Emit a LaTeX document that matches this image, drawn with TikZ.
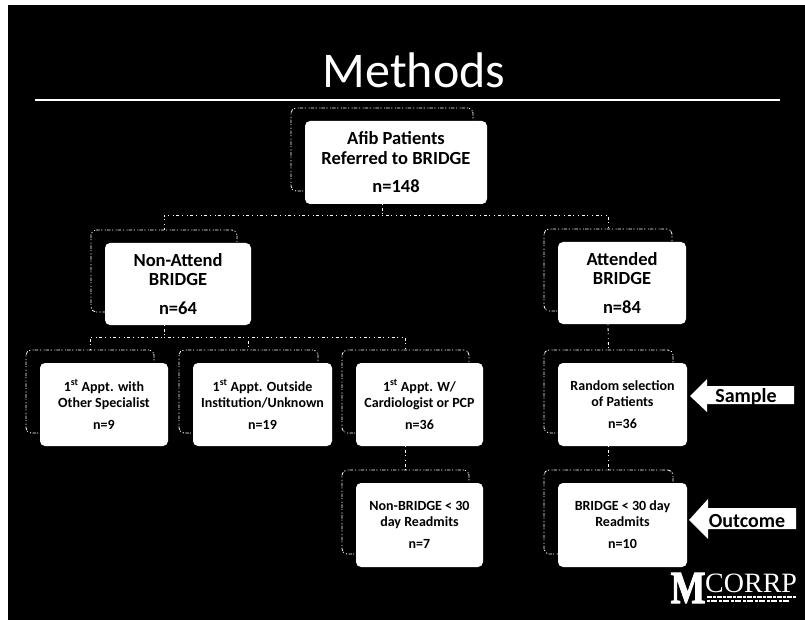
\documentclass[tikz,border=0pt]{standalone}
\usepackage{fontspec}
\setmainfont{Carlito}
\newfontfamily\logofont{Liberation Serif}
\newfontfamily\logoblock[FakeBold=2.5]{Liberation Serif Bold}
\newcommand{\sizeL}{\fontsize{18.5}{19.5}\selectfont}
\newcommand{\sizeS}{\fontsize{14}{16}\selectfont}
\tikzset{
  backframe/.style={draw=white,line width=.8pt,rounded corners=5pt,inner sep=0pt,
    dash pattern=on 1.2pt off 1.6pt on 3.5pt off 1pt on 1pt off 2.5pt},
  frontbox/.style={fill=white,rounded corners=5pt,inner sep=0pt,text=black,align=center},
  conn/.style={draw=white,line width=.8pt,dash pattern=on 1pt off 3pt on 3pt off 2pt on 1pt off 4pt},
  callout/.style={fill=white,draw=none},
  calltext/.style={font=\fontsize{20}{20}\selectfont\bfseries,text=black,inner sep=0pt},
}
% name, x1, y1, x2, y2, font, text
\newcommand{\treebox}[7]{%
  \pgfmathsetmacro{\cx}{(#2+#4)/2}\pgfmathsetmacro{\cy}{(#3+#5)/2}%
  \pgfmathsetmacro{\bw}{#4-#2}\pgfmathsetmacro{\bh}{#5-#3}%
  \node[backframe,minimum width=\bw pt,minimum height=\bh pt] (f#1) at (\cx-14,\cy-13) {};%
  \node[frontbox,minimum width=\bw pt,minimum height=\bh pt,font=#6] (#1) at (\cx,\cy) {#7};%
}
\newcommand{\stt}[1]{\textsuperscript{#1}}
\begin{document}
\begin{tikzpicture}[x=1pt,y=-1pt]
\useasboundingbox (0,0) rectangle (805,620);
\fill[white] (0,0) rectangle (805,620);
\fill[black] (8,5) rectangle (805,620);
\node[text=white,inner sep=0pt,font=\fontsize{50}{50}\selectfont] (title) at (414,70) {Methods};
\coordinate (ruleL) at (35,100);
\coordinate (ruleR) at (780,100);
\draw[white,line width=1.6pt] (ruleL) -- (ruleR);
\treebox{root}{305}{121}{487}{204}{\sizeL\bfseries}{Afib Patients\\Referred to BRIDGE\\[9pt]n=148}
\treebox{non}{105}{243}{251}{325}{\sizeL\bfseries}{Non-Attend\\BRIDGE\\[9pt]n=64}
\treebox{att}{558}{242}{686}{324}{\sizeL\bfseries}{Attended\\BRIDGE\\[9pt]n=84}
\treebox{oth}{40}{363}{168}{446}{\sizeS\bfseries}{1\stt{st} Appt. with\\Other Specialist\\[6pt]n=9}
\treebox{out}{193}{363}{332}{446}{\sizeS\bfseries}{1\stt{st} Appt. Outside\\Institution/Unknown\\[6pt]n=19}
\treebox{car}{356}{363}{483}{446}{\sizeS\bfseries}{1\stt{st} Appt. W/\\Cardiologist or PCP\\[6pt]n=36}
\treebox{ran}{558}{363}{687}{446}{\sizeS\bfseries}{Random selection\\of Patients\\[6pt]n=36}
\treebox{nbr}{356}{483}{483}{567}{\sizeS\bfseries}{Non-BRIDGE < 30\\day Readmits\\[6pt]n=7}
\treebox{bri}{558}{483}{687}{567}{\sizeS\bfseries}{BRIDGE < 30 day\\Readmits\\[6pt]n=10}
% connectors
\coordinate (levelA) at (0,215);
\coordinate (levelB) at (0,337);
\coordinate (busA) at (froot.south |- levelA);
\coordinate (busB) at (fnon.south |- levelB);
\draw[conn] (root.south -| froot.south) -- (busA) -| (fnon.north);
\draw[conn] (busA) -| (fatt.north);
\draw[conn] (non.south -| fnon.south) -- (busB) -| (foth.north);
\draw[conn] (busB) -| (fout.north);
\draw[conn] (busB) -| (fcar.north);
\draw[conn] (att.south -| fatt.south) -- (fran.north);
\draw[conn] (car.south -| fcar.south) -- (fnbr.north);
\draw[conn] (ran.south -| fran.south) -- (fbri.north);
% callouts
\fill[callout] (690,396) -- (707,379) -- (707,386) -- (794,386) -- (794,404) -- (707,404) -- (707,412) -- cycle;
\node[calltext] (sample) at (746,397) {Sample};
\fill[callout] (689,520) -- (708,499) -- (708,508) -- (796,508) -- (796,529) -- (708,529) -- (708,539) -- cycle;
\node[calltext] (outcome) at (747,521) {Outcome};
% logo
\node[text=white,inner sep=0pt,font=\logoblock\fontsize{46}{46}\selectfont,xscale=.8,anchor=base] (logoM) at (688,603) {M};
\node[text=white,inner sep=0pt,font=\logofont\fontsize{28}{28}\selectfont,anchor=base west] (logoT) at (705,592) {CORRP};
\coordinate (la) at (707,597); \coordinate (lb) at (797,597);
\coordinate (lc) at (707,601); \coordinate (ld) at (790,601);
\draw[white,line width=1.6pt,dash pattern=on 5pt off 1pt on 3pt off 1pt] (la) -- (lb);
\draw[white,line width=1.3pt,dash pattern=on 3pt off 1pt on 6pt off 2pt] (lc) -- (ld);
\end{tikzpicture}
\end{document}
